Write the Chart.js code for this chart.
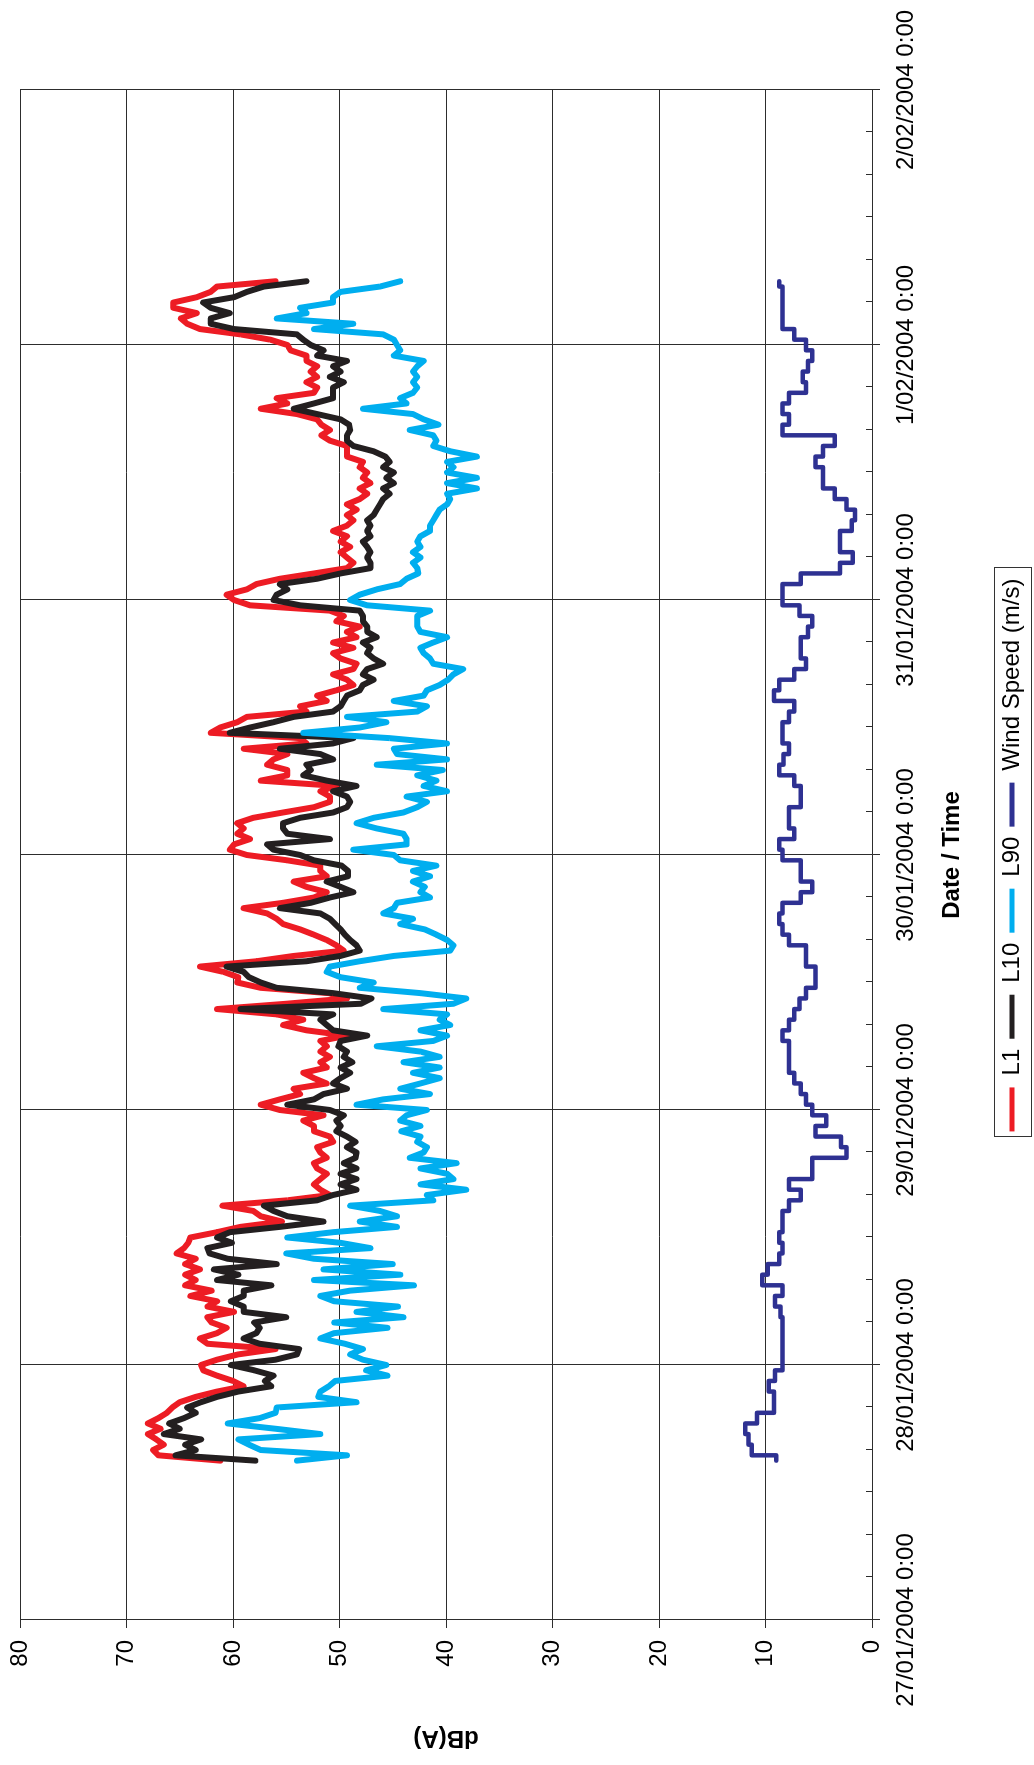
<!DOCTYPE html>
<html>
<head>
<meta charset="utf-8">
<title>Noise levels and wind speed, 27/01/2004 - 2/02/2004</title>
<script src="https://cdn.jsdelivr.net/npm/chart.js@4.4.1/dist/chart.umd.min.js"></script>
<style>
  html, body { margin: 0; padding: 0; background: #fff; overflow: hidden; width: 1034px; height: 1765px; }
  /* the chart is laid out landscape and turned a quarter turn anticlockwise onto the portrait page */
  #stage { position: absolute; left: 0; top: 0; width: 1765px; height: 1034px;
           transform-origin: 0 0; transform: translateY(1765px) rotate(-90deg); background: #fff; }
  #chart { position: absolute; left: 0; top: 0; width: 1765px; height: 1034px; }
</style>
</head>
<body>
<div id="stage"><canvas id="chart" width="1765" height="1034"></canvas></div>
<script>
// Axis labels
const dayLabels = ['27/01/2004 0:00', '28/01/2004 0:00', '29/01/2004 0:00', '30/01/2004 0:00',
                   '31/01/2004 0:00', '1/02/2004 0:00', '2/02/2004 0:00'];
const dbTicks = [0, 10, 20, 30, 40, 50, 60, 70, 80];
const seriesNames = ['L1', 'L10', 'L90', 'Wind Speed (m/s)'];

// Time base: hours after 27/01/2004 0:00
const levelStartHour = 15;     // first noise sample 27/01/2004 15:00
const levelStepHours = 0.5;    // half-hourly noise samples
const windStartHour = 15;
const windStepHours = 1;       // hourly wind readings

// L1, dB(A)
const L1 = [
  61.2, 67.0, 67.5, 66.5, 67.2, 68.0, 66.8, 68.0, 67.0, 66.2, 65.7, 65.0, 63.5, 61.5, 59.0, 60.0, 61.5, 62.8, 63.0, 61.5,
  59.5, 56.0, 62.4, 63.1, 61.5, 60.6, 62.0, 62.4, 59.9, 62.4, 61.5, 64.0, 62.0, 64.5, 63.5, 64.5, 63.1, 64.5, 63.5, 65.3,
  64.6, 64.2, 64.0, 61.5, 59.3, 55.4, 57.4, 58.1, 61.0, 54.9, 50.9, 51.8, 52.4, 51.8, 51.2, 52.1, 52.4, 51.2, 51.8, 52.1,
  50.6, 50.9, 52.4, 52.4, 53.4, 51.5, 55.6, 57.4, 55.6, 53.7, 54.3, 51.2, 52.4, 53.4, 51.2, 51.8, 50.9, 51.8, 51.2, 51.8,
  49.3, 53.1, 55.3, 53.4, 55.9, 61.5, 55.0,
  49.3, 51.0, 57.4, 59.6, 59.5, 60.9, 63.1, 57.8, 54.3, 49.6, 50.3, 51.2, 52.4, 53.7, 55.3, 55.9, 56.8, 59.0, 55.3, 52.4,
  51.2, 53.1, 54.3, 51.2, 51.8, 51.8, 54.9, 58.7, 60.3, 59.9, 58.4, 59.6, 59.0, 59.6, 58.1, 55.3, 52.4, 50.9, 50.9, 51.8,
  50.3, 57.4, 54.9, 54.9, 56.8, 56.2, 54.9,
  59.0, 53.1, 53.7, 62.1, 61.2, 59.6, 58.7, 53.1, 53.7, 51.2, 52.1, 50.3, 48.7, 49.3, 50.6, 48.7, 48.4, 49.9, 50.6, 48.7,
  50.6, 48.4, 49.3, 48.1, 50.3, 49.6, 50.9, 58.4, 59.9, 60.6, 58.7, 57.8, 55.6, 52.4, 49.3, 48.7, 49.3, 49.9, 49.0, 49.9,
  49.3, 50.6, 49.3, 48.7, 49.3, 48.4, 49.3,
  48.1, 47.4, 48.1, 47.1, 47.8, 47.4, 48.1, 47.8, 49.3, 49.3, 49.3, 50.9, 51.7, 50.9, 51.7, 52.1, 54.0, 57.4, 54.9, 55.9,
  52.4, 52.1, 53.1, 52.1, 52.7, 52.1, 53.1, 53.1, 54.6, 54.9, 56.5, 59.3, 63.1, 64.3, 64.9, 63.4, 65.6, 65.6, 63.4, 62.1,
  61.5, 56.0
];

// L10, dB(A)
const L10 = [
  57.9, 65.4, 63.5, 64.5, 63.0, 66.5, 65.0, 66.0, 64.6, 63.5, 64.3, 63.0, 61.5, 59.5, 56.4, 57.0, 56.2, 58.0, 60.2, 56.0,
  54.0, 53.8, 57.5, 59.0, 57.8, 57.5, 58.0, 55.0, 59.0, 59.0, 60.2, 59.0, 59.0, 56.4, 61.5, 59.5, 61.8, 55.9, 60.5, 62.2,
  62.4, 60.1, 61.5, 60.3, 55.6, 51.5, 54.9, 56.2, 57.1, 52.1, 50.6, 48.4, 49.9, 48.4, 49.9, 48.4, 49.6, 48.5, 48.4, 49.3,
  48.5, 49.3, 50.3, 49.9, 50.3, 49.6, 50.9, 54.9, 52.4, 51.5, 49.3, 50.6, 49.9, 49.0, 49.9, 48.8, 49.6, 49.3, 50.1, 49.9,
  47.4, 50.6, 51.2, 51.8, 50.6, 59.3, 48.0,
  47.0, 50.6, 55.9, 57.4, 58.5, 59.0, 60.6, 53.1, 49.9, 48.1, 48.4, 49.0, 49.5, 49.9, 50.4, 50.9, 51.8, 55.6, 52.7, 50.9,
  48.7, 49.9, 51.2, 49.2, 49.2, 49.8, 52.4, 53.7, 56.2, 56.8, 50.9, 54.9, 55.3, 55.3, 53.7, 50.6, 49.3, 49.0, 49.3, 50.6,
  48.4, 51.2, 53.4, 52.7, 53.1, 50.6, 51.8,
  55.6, 50.6, 48.7, 60.3, 58.4, 56.2, 54.3, 50.6, 49.9, 49.6, 49.3, 48.1, 47.8, 46.8, 47.8, 47.4, 45.9, 46.8, 47.4, 47.1,
  47.8, 46.5, 47.4, 47.4, 47.8, 47.8, 48.1, 53.7, 56.2, 55.9, 54.9, 55.6, 52.1, 49.9, 47.1, 47.1, 47.4, 47.1, 47.4, 47.8,
  47.1, 47.4, 47.1, 47.4, 46.8, 46.5, 46.2,
  45.9, 45.3, 45.9, 44.9, 45.6, 44.9, 45.9, 45.3, 45.7, 46.8, 48.7, 49.3, 49.3, 49.0, 49.1, 49.9, 52.1, 54.3, 52.4, 50.6,
  50.6, 50.6, 49.6, 50.9, 49.9, 50.6, 49.3, 52.1, 51.5, 52.7, 53.4, 54.0, 59.9, 62.1, 62.1, 60.3, 62.1, 62.8, 59.9, 58.7,
  57.1, 53.1
];

// L90, dB(A)
const L90 = [
  54.0, 49.3, 57.4, 58.5, 59.5, 51.8, 56.0, 60.5, 57.5, 56.0, 55.9, 48.4, 52.0, 51.8, 51.0, 50.4, 45.5, 47.5, 45.6, 47.8,
  49.0, 47.8, 49.5, 51.8, 50.5, 45.5, 50.5, 44.0, 48.4, 44.5, 50.5, 51.8, 49.0, 43.0, 52.4, 44.3, 51.5, 45.0, 52.4, 55.0,
  47.1, 49.9, 54.9, 50.6, 44.6, 48.1, 44.6, 46.2, 49.0, 41.2, 41.8, 38.1, 42.4, 39.3, 39.9, 42.4, 39.0, 43.4, 42.1, 41.8,
  42.7, 42.4, 44.2, 42.4, 44.3, 43.7, 41.8, 48.4, 45.9, 41.5, 44.3, 42.4, 40.6, 43.1, 40.6, 44.0, 40.6, 42.4, 46.5, 41.2,
  39.9, 42.4, 39.6, 40.6, 39.9, 45.9, 39.3,
  38.1, 42.4, 48.1, 46.8, 49.9, 51.2, 50.9, 48.1, 44.9, 39.6, 39.3, 39.9, 40.9, 42.0, 44.3, 43.1, 45.9, 44.9, 44.6, 41.5,
  42.4, 42.0, 43.1, 41.5, 43.1, 40.9, 44.3, 44.9, 48.7, 43.7, 43.7, 44.0, 46.5, 48.4, 46.8, 44.0, 42.7, 41.8, 43.7, 39.9,
  42.1, 40.9, 42.7, 40.3, 46.5, 39.9, 44.6,
  44.9, 39.9, 45.3, 53.4, 48.1, 45.6, 49.3, 42.7, 41.8, 44.9, 42.1, 41.8, 40.6, 39.8, 39.3, 38.4, 41.2, 41.5, 42.1, 42.4,
  41.2, 39.9, 42.4, 42.7, 42.7, 42.7, 41.5, 47.4, 49.0, 48.1, 46.5, 44.3, 43.7, 42.6, 42.7, 43.1, 42.4, 43.1, 42.4, 42.7,
  42.4, 41.5, 41.5, 41.2, 40.9, 40.6, 39.9,
  39.6, 39.9, 37.1, 39.9, 37.1, 39.9, 39.3, 39.9, 37.1, 39.6, 41.2, 40.9, 41.2, 43.4, 40.7, 42.1, 43.1, 47.8, 43.7, 44.3,
  43.1, 42.7, 43.1, 42.7, 43.1, 42.7, 42.1, 44.9, 44.3, 44.6, 44.9, 45.9, 52.4, 48.7, 55.9, 53.1, 53.7, 50.6, 50.6, 49.9,
  46.2, 44.3
];

// Wind speed, m/s
const windSpeed = [
  9.0, 11.3, 11.6, 11.9, 10.8, 9.2, 9.2, 9.7, 9.1, 8.4,
  8.4, 8.4, 8.4, 8.4, 8.6, 9.1, 8.4, 10.3, 9.8, 8.7,
  8.4, 8.7, 8.4, 8.4, 7.8, 6.7, 7.8, 5.6, 5.6, 2.4,
  2.9, 5.3, 4.3, 5.6, 6.2, 6.7, 7.3, 7.8, 7.8, 7.8,
  8.4, 7.8, 7.3, 6.8, 6.2, 5.3, 5.3, 6.2, 6.2, 7.8,
  8.4, 8.7, 8.4, 6.7, 5.6, 6.7, 6.7, 8.4, 8.7, 7.3,
  7.8, 7.8, 6.7, 6.7, 7.3, 8.7, 8.3, 7.8, 8.4, 8.4,
  7.8, 7.3, 9.2, 8.7, 7.3, 6.2, 6.7, 6.7, 6.0, 5.6,
  6.8, 8.4, 8.4, 6.7, 3.0, 1.8, 3.0, 3.0, 1.9, 1.6,
  2.4, 3.5, 4.6, 4.6, 5.3, 4.6, 3.5, 8.4, 7.8, 8.4,
  7.8, 6.2, 6.5, 6.0, 5.6, 6.2, 7.3, 8.4, 8.4, 8.4,
  8.4, 8.7
];

const toPoints = (values, start, step) => values.map((v, i) => ({ x: start + i * step, y: v }));

const GRID = '#2d2d2d';
Chart.defaults.font.family = '"Liberation Sans", Arial, sans-serif';
Chart.defaults.font.size = 24;
Chart.defaults.color = '#000';

// short inward ticks every 4 hours along the time axis
const minorTicks = {
  id: 'minorTicks',
  afterDraw(chart) {
    const xs = chart.scales.x, ys = chart.scales.y, ctx = chart.ctx;
    ctx.save();
    ctx.strokeStyle = GRID;
    ctx.lineWidth = 1;
    xs.ticks.forEach(t => {
      if (t.value % 24 === 0) return;
      const px = Math.round(xs.getPixelForValue(t.value)) + 0.5;
      ctx.beginPath();
      ctx.moveTo(px, ys.bottom);
      ctx.lineTo(px, ys.bottom - 6);
      ctx.stroke();
    });
    ctx.restore();
  }
};

// thin frame round the legend entries
const legendFrame = {
  id: 'legendFrame',
  afterDraw(chart) {
    const boxes = chart.legend && chart.legend.legendHitBoxes;
    if (!boxes || !boxes.length) return;
    const first = boxes[0], last = boxes[boxes.length - 1];
    const left = Math.round(first.left - 6) + 0.5;
    const right = Math.round(last.left + last.width + 11) + 0.5;
    const cy = first.top + first.height / 2;
    const ctx = chart.ctx;
    ctx.save();
    ctx.strokeStyle = '#333';
    ctx.lineWidth = 1;
    ctx.strokeRect(left, Math.round(cy - 18.5) + 0.5, right - left, 37);
    ctx.restore();
  }
};

const colours = ['#ED1C24', '#231F20', '#00AEEF', '#2E3192'];

new Chart(document.getElementById('chart'), {
  type: 'line',
  data: {
    datasets: [
      { label: seriesNames[0], data: toPoints(L1, levelStartHour, levelStepHours),
        borderColor: colours[0], backgroundColor: colours[0], borderWidth: 6, order: 4 },
      { label: seriesNames[1], data: toPoints(L10, levelStartHour, levelStepHours),
        borderColor: colours[1], backgroundColor: colours[1], borderWidth: 6, order: 3 },
      { label: seriesNames[2], data: toPoints(L90, levelStartHour, levelStepHours),
        borderColor: colours[2], backgroundColor: colours[2], borderWidth: 6, order: 2 },
      { label: seriesNames[3], data: toPoints(windSpeed, windStartHour, windStepHours),
        borderColor: colours[3], backgroundColor: colours[3], borderWidth: 4.5, stepped: 'middle', order: 1 }
    ]
  },
  options: {
    responsive: false,
    animation: false,
    devicePixelRatio: 1,
    layout: { padding: { left: 0, right: 90, top: 20, bottom: 0 } },
    elements: {
      point: { radius: 0, hoverRadius: 0 },
      line: { tension: 0, borderJoinStyle: 'round', borderCapStyle: 'round', fill: false }
    },
    events: [],
    scales: {
      x: {
        type: 'linear',
        min: 0,
        max: (dayLabels.length - 1) * 24,
        afterBuildTicks: s => {
          const t = [];
          for (let h = 0; h <= (dayLabels.length - 1) * 24; h += 4) t.push({ value: h });
          s.ticks = t;
        },
        afterFit: s => { s.height = 118; s.paddingLeft = 0; s.paddingRight = 0; },
        ticks: {
          autoSkip: false, maxRotation: 0, minRotation: 0, padding: 12, color: '#000',
          font: { size: 24 },
          callback: v => (v % 24 === 0 ? dayLabels[v / 24] : '')
        },
        grid: {
          color: c => (c.tick && c.tick.value % 24 === 0 ? GRID : 'rgba(0,0,0,0)'),
          tickColor: c => (c.tick && c.tick.value % 24 === 0 ? GRID : 'rgba(0,0,0,0)'),
          tickLength: 8,
          lineWidth: 1
        },
        border: { color: GRID, width: 1 },
        title: { display: true, text: 'Date / Time', color: '#000',
                 font: { size: 24, weight: 'bold' }, padding: { top: 4, bottom: 23 } }
      },
      y: {
        min: 0,
        max: 80,
        afterBuildTicks: s => { s.ticks = dbTicks.map(v => ({ value: v })); },
        afterFit: s => { s.width = 145; s.paddingTop = 0; s.paddingBottom = 0; },
        ticks: { padding: 12, color: '#000', font: { size: 24 } },
        grid: { color: GRID, tickColor: GRID, tickLength: 8, lineWidth: 1 },
        border: { color: GRID, width: 1 },
        title: { display: true, text: 'dB(A)', color: '#000',
                 font: { size: 24, weight: 'bold' }, padding: { top: 13, bottom: 0 } }
      }
    },
    plugins: {
      tooltip: { enabled: false },
      legend: {
        position: 'bottom',
        fullSize: false,
        labels: {
          boxWidth: 44,
          boxHeight: 5,
          padding: 10,
          color: '#000',
          font: { size: 24 },
          generateLabels: chart => chart.data.datasets.map((ds, i) => ({
            text: ds.label, fillStyle: ds.borderColor, strokeStyle: ds.borderColor,
            lineWidth: 0, hidden: false, datasetIndex: i
          }))
        }
      }
    }
  },
  plugins: [minorTicks, legendFrame]
});
</script>
</body>
</html>
